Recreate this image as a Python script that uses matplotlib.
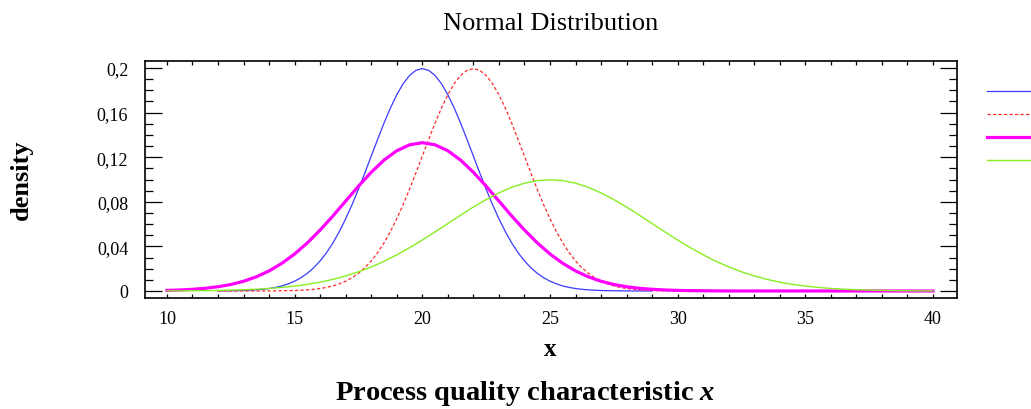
import numpy as np
import matplotlib
matplotlib.use("Agg")
import matplotlib.pyplot as plt
from matplotlib.ticker import MultipleLocator, FuncFormatter

# density values read along x; narrow curves sampled every 0.25, wider ones every 0.5
x_blue = np.arange(12, 29.25, 0.25)
blue_vals = ([0.0001, 0.0001, 0.0002, 0.0003, 0.0004, 0.0007, 0.0010, 0.0015, 0.0022, 0.0032,
              0.0045, 0.0064, 0.0088, 0.0119, 0.0159, 0.0209, 0.0270, 0.0344, 0.0431, 0.0533,
              0.0648, 0.0775, 0.0913, 0.1059, 0.1210, 0.1360, 0.1506, 0.1641, 0.1760, 0.1859,
              0.1933, 0.1979, 0.1995, 0.1979, 0.1933, 0.1859, 0.1760, 0.1641, 0.1506, 0.1360,
              0.1210, 0.1059, 0.0913, 0.0775, 0.0648, 0.0533, 0.0431, 0.0344, 0.0270, 0.0209,
              0.0159, 0.0119, 0.0088, 0.0064, 0.0045, 0.0032, 0.0022, 0.0015, 0.0010, 0.0007,
              0.0004, 0.0003, 0.0002, 0.0001, 0.0001] +
             [0.0] * 4)

x_red = np.arange(12, 32.25, 0.25)
red_vals = ([0.0] * 8 +
            [0.0001, 0.0001, 0.0002, 0.0003, 0.0004, 0.0007, 0.0010, 0.0015, 0.0022, 0.0032,
             0.0045, 0.0064, 0.0088, 0.0119, 0.0159, 0.0209, 0.0270, 0.0344, 0.0431, 0.0533,
             0.0648, 0.0775, 0.0913, 0.1059, 0.1210, 0.1360, 0.1506, 0.1641, 0.1760, 0.1859,
             0.1933, 0.1979, 0.1995, 0.1979, 0.1933, 0.1859, 0.1760, 0.1641, 0.1506, 0.1360,
             0.1210, 0.1059, 0.0913, 0.0775, 0.0648, 0.0533, 0.0431, 0.0344, 0.0270, 0.0209,
             0.0159, 0.0119, 0.0088, 0.0064, 0.0045, 0.0032, 0.0022, 0.0015, 0.0010, 0.0007,
             0.0004, 0.0003, 0.0002, 0.0001, 0.0001] +
            [0.0] * 8)

x_magenta = np.arange(10, 40.5, 0.5)
magenta_vals = [0.0005, 0.0009, 0.0015, 0.0024, 0.0038, 0.0058, 0.0087, 0.0127, 0.0180, 0.0248,
                0.0332, 0.0432, 0.0547, 0.0673, 0.0807, 0.0940, 0.1065, 0.1174, 0.1258, 0.1311,
                0.1330, 0.1311, 0.1258, 0.1174, 0.1065, 0.0940, 0.0807, 0.0673, 0.0547, 0.0432,
                0.0332, 0.0248, 0.0180, 0.0127, 0.0087, 0.0058, 0.0038, 0.0024, 0.0015, 0.0009,
                0.0005, 0.0003, 0.0002, 0.0001, 0.0, 0.0, 0.0, 0.0, 0.0, 0.0,
                0.0, 0.0, 0.0, 0.0, 0.0, 0.0, 0.0, 0.0, 0.0, 0.0,
                0.0]

x_green = np.arange(10, 40.5, 0.5)
green_vals = [0.0001, 0.0001, 0.0002, 0.0003, 0.0005, 0.0008, 0.0011, 0.0016, 0.0023, 0.0032,
              0.0044, 0.0059, 0.0079, 0.0104, 0.0135, 0.0172, 0.0216, 0.0266, 0.0324, 0.0388,
              0.0457, 0.0530, 0.0605, 0.0680, 0.0753, 0.0820, 0.0880, 0.0930, 0.0967, 0.0990,
              0.0997, 0.0990, 0.0967, 0.0930, 0.0880, 0.0820, 0.0753, 0.0680, 0.0605, 0.0530,
              0.0457, 0.0388, 0.0324, 0.0266, 0.0216, 0.0172, 0.0135, 0.0104, 0.0079, 0.0059,
              0.0044, 0.0032, 0.0023, 0.0016, 0.0011, 0.0008, 0.0005, 0.0003, 0.0002, 0.0001,
              0.0001]

x_ticks = [10, 15, 20, 25, 30, 35, 40]
y_ticks = [0, 0.04, 0.08, 0.12, 0.16, 0.2]

W, H = 1031, 410
plt.rcParams["font.family"] = ["Liberation Serif", "DejaVu Serif"]
plt.rcParams["mathtext.fontset"] = "custom"
plt.rcParams["mathtext.rm"] = "Liberation Serif"
plt.rcParams["mathtext.bf"] = "Liberation Serif:bold"
plt.rcParams["mathtext.bfit"] = "Liberation Serif:italic:bold"

fig = plt.figure(figsize=(W / 100, H / 100), dpi=100)
ax = fig.add_axes([145 / W, 1 - 299 / H, (957 - 145) / W, (299 - 62) / H])

l_blue, = ax.plot(x_blue, blue_vals, color="#3a3aff", lw=0.9)
l_red, = ax.plot(x_red, red_vals, color="#ff2a2a", lw=0.9, linestyle=(0, (2.6, 1.8)))
l_mag, = ax.plot(x_magenta, magenta_vals, color="#ff00ff", lw=2.3)
l_green, = ax.plot(x_green, green_vals, color="#88ee22", lw=1.0)

ax.set_xlim(9.14, 40.94)
ax.set_ylim(-0.0063, 0.2063)

ax.set_xticks(x_ticks)
ax.set_yticks(y_ticks)
ax.xaxis.set_minor_locator(MultipleLocator(1))
ax.yaxis.set_minor_locator(MultipleLocator(0.01))


def comma_fmt(v, pos):
    s = ("%.2f" % v).rstrip("0").rstrip(".")
    return s.replace(".", ",")


ax.yaxis.set_major_formatter(FuncFormatter(comma_fmt))

ax.tick_params(axis="x", which="both", direction="in", top=True, bottom=True,
               length=3, width=0.9, pad=9, labelsize=13)
ax.tick_params(axis="y", which="major", direction="in", left=True, right=True,
               length=12, width=0.9, pad=12, labelsize=13)
ax.tick_params(axis="y", which="minor", direction="in", left=True, right=True,
               length=5.5, width=0.9)
for sp in ax.spines.values():
    sp.set_linewidth(1.2)

fig.text(551 / W, 1 - 24 / H, "Normal Distribution", ha="center", va="center", fontsize=19)
fig.text(21 / W, 1 - 180 / H, "density", ha="center", va="center", rotation=90,
         fontsize=19, fontweight="bold")
fig.text(550 / W, 1 - 350 / H, "x", ha="center", va="center", fontsize=18, fontweight="bold")
fig.text(525 / W, 1 - 394 / H, r"Process quality characteristic $\mathbfit{x}$",
         ha="center", va="center", fontsize=20.5, fontweight="bold")

ax.legend(handles=[l_blue, l_red, l_mag, l_green], labels=["", "", "", ""],
          loc="upper left", bbox_to_anchor=(987 / W, 1 - 87 / H), bbox_transform=fig.transFigure,
          frameon=False, borderpad=0, borderaxespad=0, handlelength=5, handletextpad=0,
          labelspacing=0.72, fontsize=10)

fig.savefig("out.png", dpi=100)
